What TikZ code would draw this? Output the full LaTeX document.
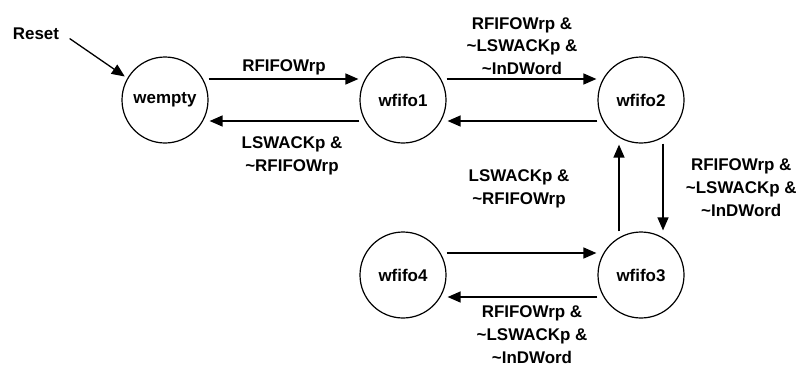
\documentclass[tikz,border=0pt]{standalone}
\usepackage{fontspec}
\setmainfont{Liberation Sans}
\usetikzlibrary{arrows.meta,automata,positioning}

\begin{document}
\begin{tikzpicture}[x=1bp,y=-1bp,>={Triangle[length=13bp,width=11bp]},shorten >=1pt,node distance=238bp,
  every node/.style={font=\fontsize{17}{23}\selectfont\bfseries},
  every state/.style={draw,line width=1.2bp,minimum size=86bp,inner sep=0pt},
  line width=1.3bp]
  \useasboundingbox (0,0) rectangle (799,369);
  \node[state] (wempty) at (165,100) {wempty};
  \node[state]         (wfifo1) [right of=wempty] {wfifo1};
  \node[state]         (wfifo2) [right of=wfifo1] {wfifo2};
  \node[state]         (wfifo3) [below of=wfifo2,node distance=175bp] {wfifo3};
  \node[state]         (wfifo4) [left of=wfifo3] {wfifo4};
  \node (reset) at (36,34) {Reset};

  \draw[->,shorten <=8bp,shorten >=3bp] (reset.east) -- (wempty.150);
  \path[->] ([yshift=21bp]wempty.east) edge node[above] (t01) {RFIFOWrp} ([yshift=21bp]wfifo1.west)
        ([yshift=-21bp]wfifo1.west) edge node[below=12bp,xshift=8bp,align=center] (t10) {LSWACKp \&\\\textasciitilde RFIFOWrp} ([yshift=-21bp]wempty.east)
        ([yshift=21bp]wfifo1.east) edge node[above,align=center] (t12) {RFIFOWrp \&\\\textasciitilde LSWACKp \&\\\textasciitilde InDWord} ([yshift=21bp]wfifo2.west)
        ([yshift=-21bp]wfifo2.west) edge node[below=45bp,xshift=-3bp,align=center] (t21) {LSWACKp \&\\\textasciitilde RFIFOWrp} ([yshift=-21bp]wfifo1.east)
        ([xshift=22bp]wfifo2.south) edge node[right=19bp,align=center] (t23) {RFIFOWrp \&\\\textasciitilde LSWACKp \&\\\textasciitilde InDWord} ([xshift=22bp]wfifo3.north)
        ([xshift=-22bp]wfifo3.north) edge ([xshift=-22bp]wfifo2.south)
        ([yshift=22bp]wfifo4.east) edge ([yshift=22bp]wfifo3.west)
        ([yshift=-22bp]wfifo3.west) edge node[below=5bp,xshift=10bp,align=center] (t34) {RFIFOWrp \&\\\textasciitilde LSWACKp \&\\\textasciitilde InDWord} ([yshift=-22bp]wfifo4.east);
\end{tikzpicture}
\end{document}
